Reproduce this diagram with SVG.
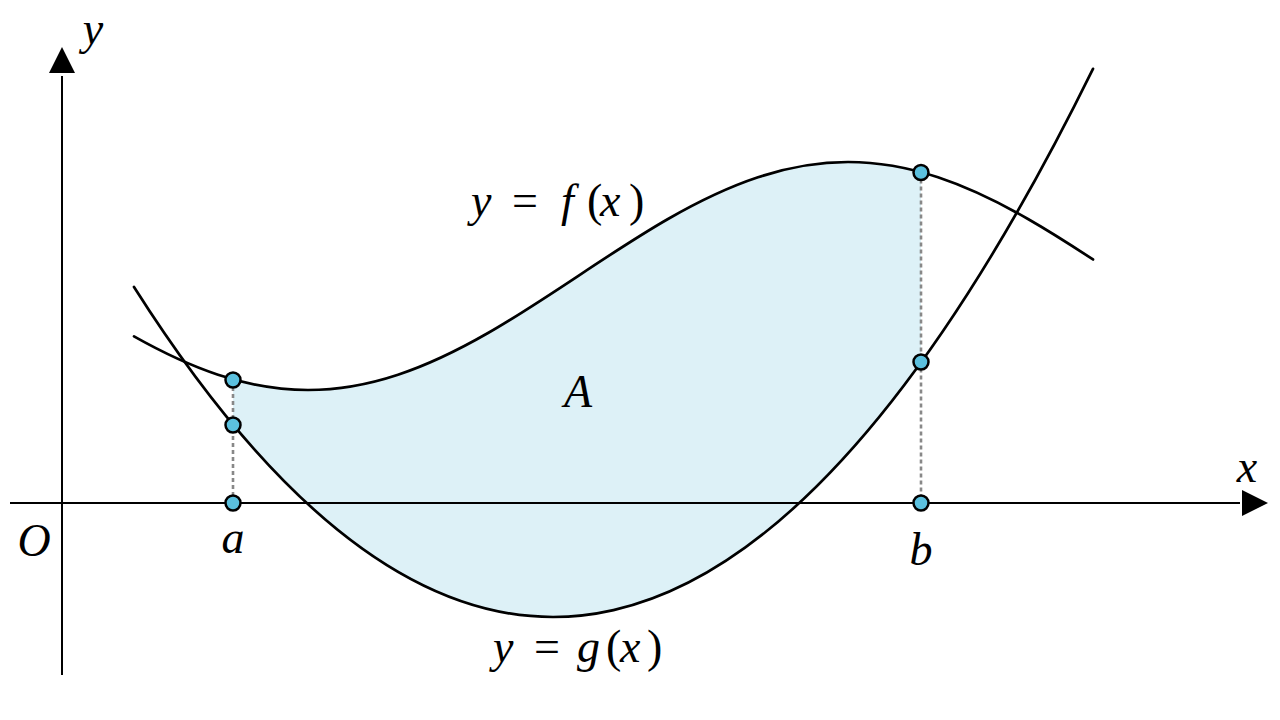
<svg xmlns="http://www.w3.org/2000/svg" width="1280" height="720" viewBox="0 0 1280 720">
  <style>
    .axis { stroke: #000; stroke-width: 2; fill: none; }
    .arrow { fill: #000; }
    .curve { stroke: #000; stroke-width: 2.7; fill: none; stroke-linecap: round; }
    .guide { stroke: #888; stroke-width: 2.6; stroke-dasharray: 4 3; fill: none; }
    .pt { fill: #5bc0de; stroke: #000; stroke-width: 2.5; }
    .lbl { font-family: "Liberation Serif", "Times New Roman", serif; font-size: 46px; fill: #000; }
    .it { font-style: italic; }
    .up { font-style: normal; }
  </style>
  <defs>
    <clipPath id="band">
      <rect x="233" y="0" width="688" height="720"/>
    </clipPath>
  </defs>
  <rect x="0" y="0" width="1280" height="720" fill="#fff"/>

  <g id="area">
    <path clip-path="url(#band)" fill="#ddf1f7" stroke="none" d="M134,336.41 C162,352.16 190,365.44 218,374.73 C248,384.68 278,390 308,390 C338,390 368,384.68 398,374.73 C428,364.78 458,350.23 488,333 C518,315.77 548,295.9 578,276 C608,256.1 638,236.23 668,219 C698,201.77 728,187.22 758,177.27 C788,167.32 818,162 848,162 C878,162 908,167.32 938,177.27 C968,187.22 998,201.77 1028,219 C1049.67,231.44 1071.33,245.26 1093,259.48 L1093,68.8 Q613.5,1042.4 134,286.95 Z"/>
  </g>

  <g id="axes">
    <line class="axis" x1="10" y1="503" x2="1240" y2="503"/>
    <polygon class="arrow" points="1242,490 1268,503 1242,516"/>
    <line class="axis" x1="62" y1="675" x2="62" y2="76"/>
    <polygon class="arrow" points="49,73 62,47 75,73"/>
  </g>

  <g id="guides">
    <line class="guide" x1="233" y1="380" x2="233" y2="503"/>
    <line class="guide" x1="921" y1="172.5" x2="921" y2="503"/>
  </g>

  <g id="curves">
    <path id="curve-f" class="curve" d="M134,336.41 C162,352.16 190,365.44 218,374.73 C248,384.68 278,390 308,390 C338,390 368,384.68 398,374.73 C428,364.78 458,350.23 488,333 C518,315.77 548,295.9 578,276 C608,256.1 638,236.23 668,219 C698,201.77 728,187.22 758,177.27 C788,167.32 818,162 848,162 C878,162 908,167.32 938,177.27 C968,187.22 998,201.77 1028,219 C1049.67,231.44 1071.33,245.26 1093,259.48"/>
    <path id="curve-g" class="curve" d="M134,286.95 Q613.5,1042.4 1093,68.8"/>
  </g>

  <g id="points">
    <circle class="pt" cx="233" cy="380" r="7.5"/>
    <circle class="pt" cx="233" cy="425" r="7.5"/>
    <circle class="pt" cx="233" cy="503" r="7.5"/>
    <circle class="pt" cx="921" cy="172.5" r="7.5"/>
    <circle class="pt" cx="921" cy="362" r="7.5"/>
    <circle class="pt" cx="921" cy="503" r="7.5"/>
  </g>

  <g id="labels">
    <text class="lbl it" x="93" y="44" text-anchor="middle">y</text>
    <text class="lbl it" x="1247" y="482" text-anchor="middle">x</text>
    <text class="lbl it" x="34" y="556" text-anchor="middle">O</text>
    <text class="lbl it" x="233" y="553" text-anchor="middle">a</text>
    <text class="lbl it" x="921" y="565" text-anchor="middle">b</text>
    <text class="lbl it" x="578" y="407" text-anchor="middle">A</text>
    <text class="lbl" y="216"><tspan class="it" x="471">y</tspan><tspan class="up" x="512">=</tspan><tspan class="it" x="561">f</tspan><tspan class="up" x="587">(</tspan><tspan class="it" x="600">x</tspan><tspan class="up" x="629">)</tspan></text>
    <text class="lbl" y="662"><tspan class="it" x="493">y</tspan><tspan class="up" x="534">=</tspan><tspan class="it" x="577">g</tspan><tspan class="up" x="606">(</tspan><tspan class="it" x="620">x</tspan><tspan class="up" x="647">)</tspan></text>
  </g>
</svg>
